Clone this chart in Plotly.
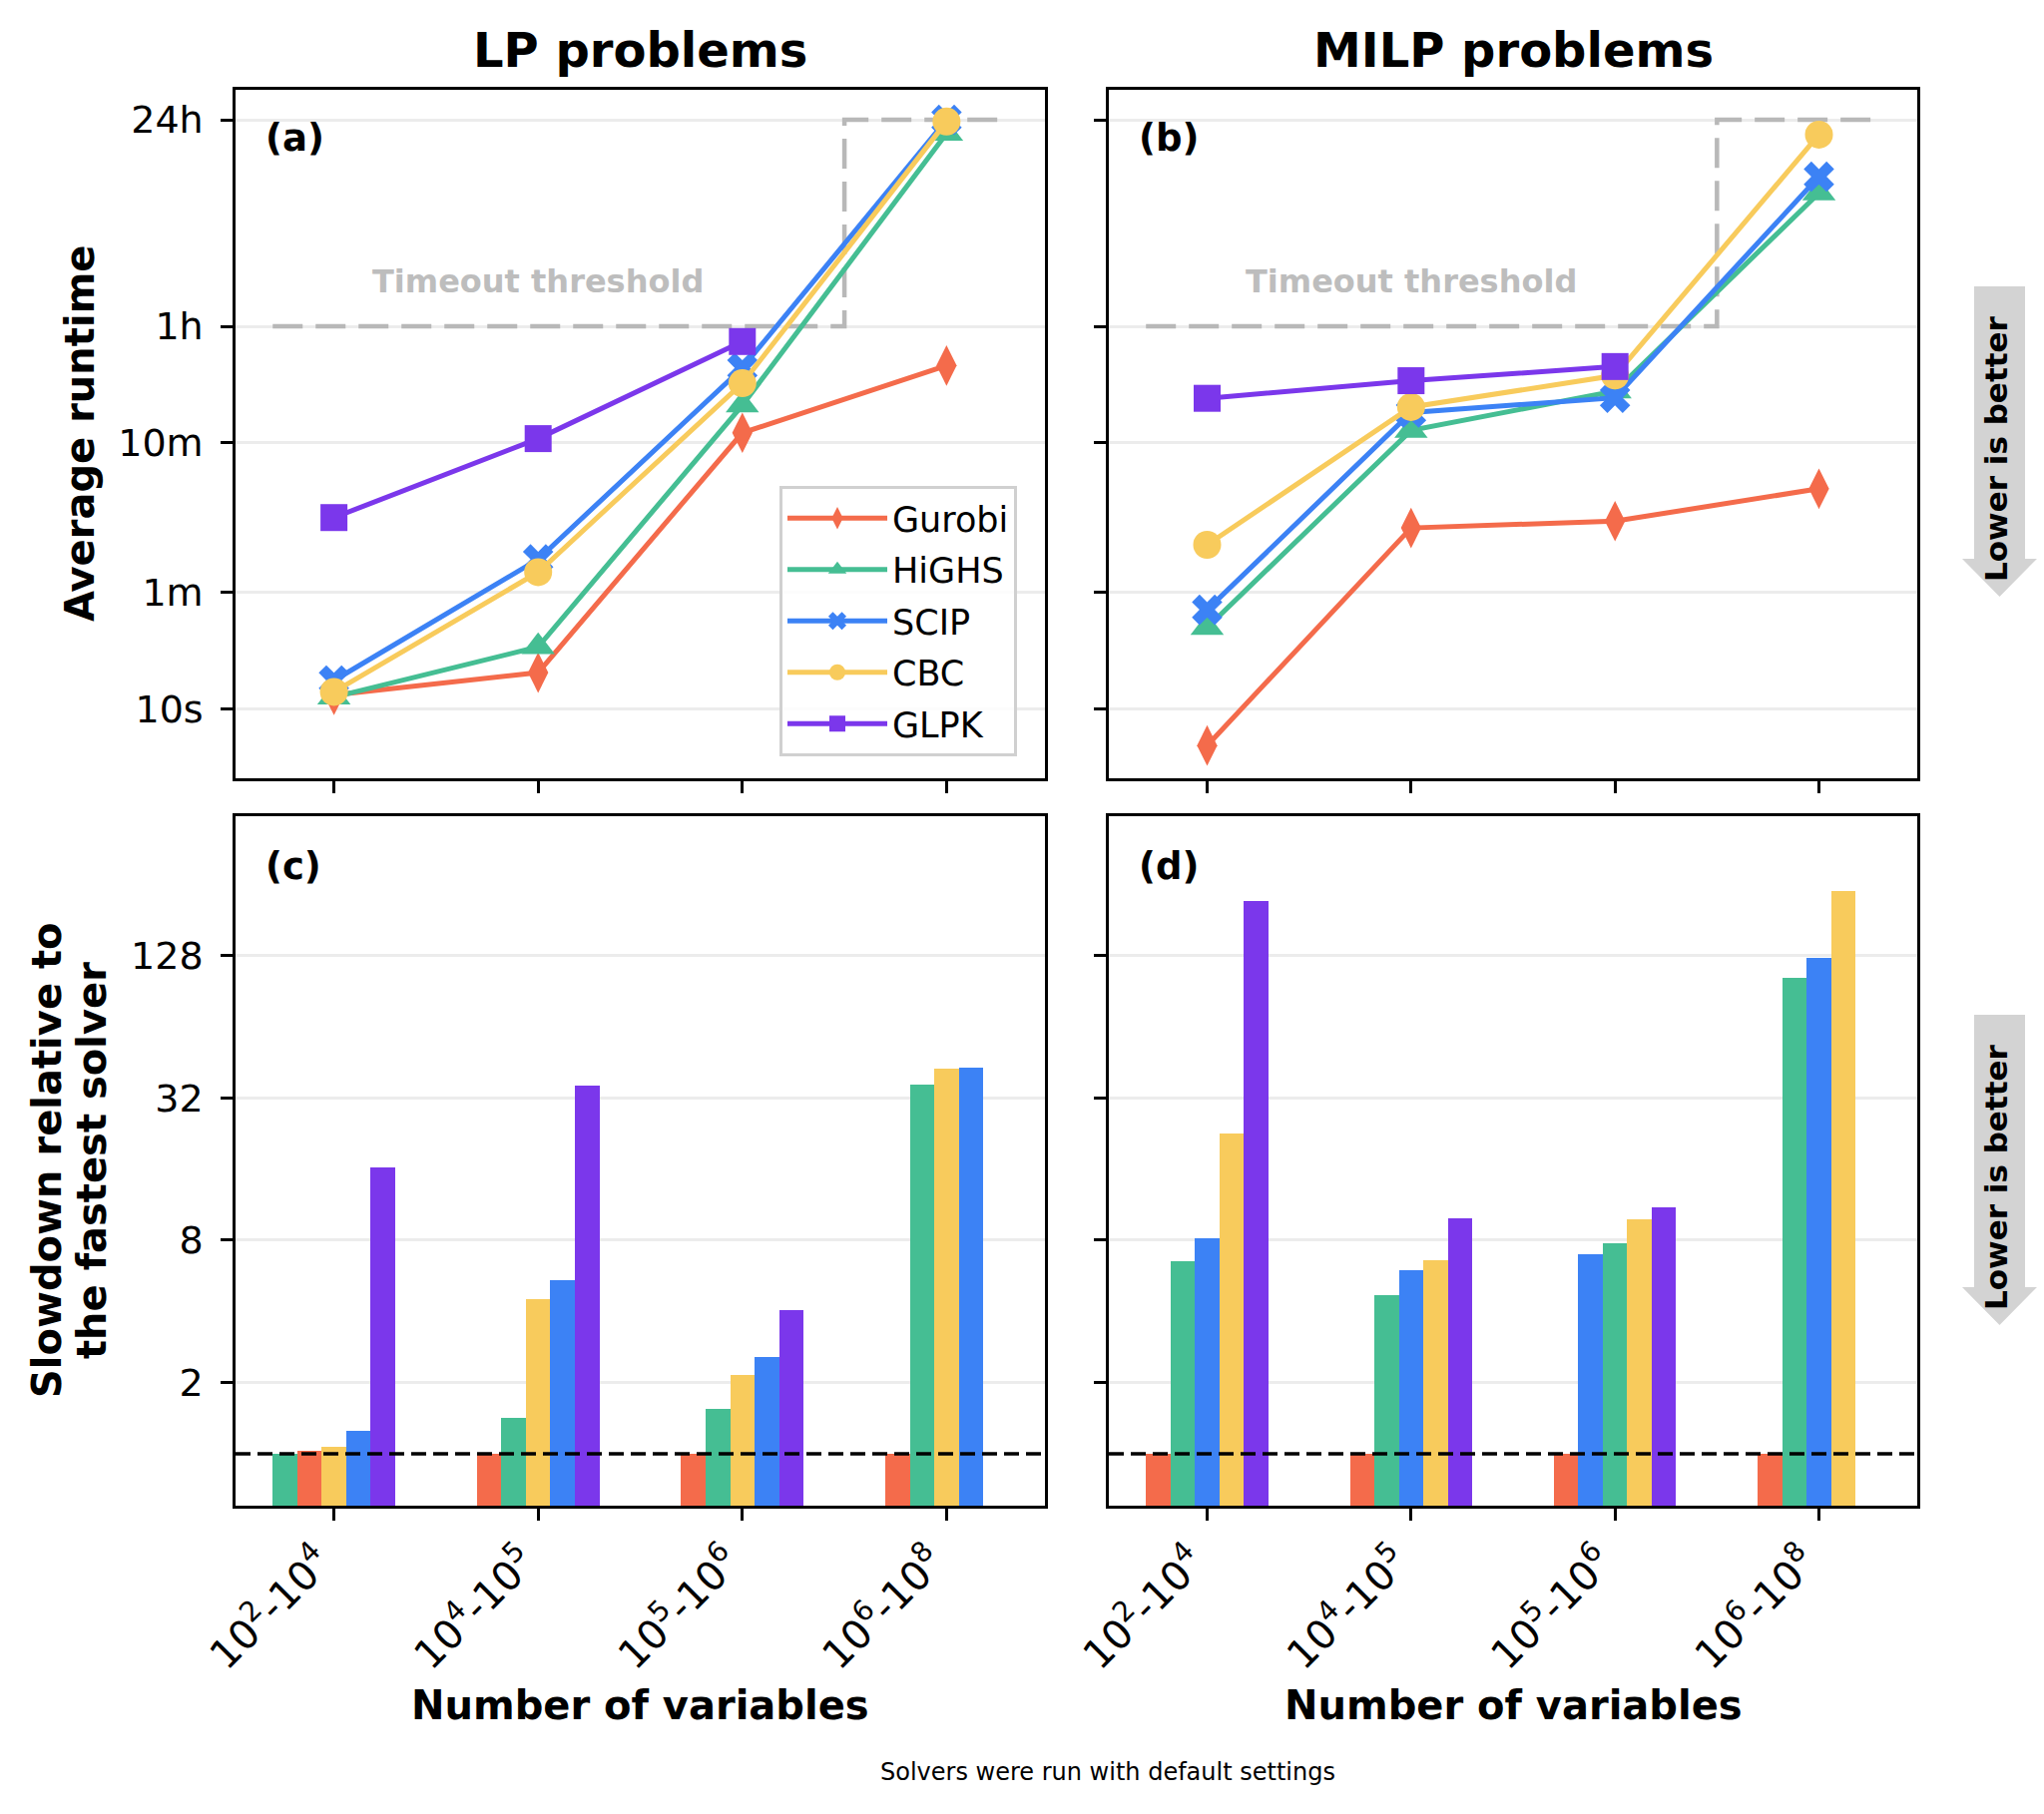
import math
import plotly.graph_objects as go

W, H = 2048, 1818
FONT = "DejaVu Sans"

# ---------------- data ----------------
categories = ["10<sup>2</sup>-10<sup>4</sup>", "10<sup>4</sup>-10<sup>5</sup>",
              "10<sup>5</sup>-10<sup>6</sup>", "10<sup>6</sup>-10<sup>8</sup>"]
solvers = ["Gurobi", "HiGHS", "SCIP", "CBC", "GLPK"]

# average runtime in seconds (LP problems)
lp_gurobi = [12.4, 17.5, 700, 1970]
lp_highs = [12.0, 26, 1070, 70000]
lp_scip = [15.5, 100, 1900, 86400]
lp_cbc = [13.0, 82, 1500, 84000]
lp_glpk = [190, 640, 2850, None]

# average runtime in seconds (MILP problems)
milp_gurobi = [5.7, 162, 180, 296]
milp_highs = [35, 726, 1330, 28000]
milp_scip = [46, 955, 1200, 36000]
milp_cbc = [125, 1040, 1690, 68700]
milp_glpk = [1190, 1560, 1940, None]

# slowdown relative to the fastest solver (LP problems)
lp_slow_gurobi = [1.03, 1.0, 1.0, 1.0]
lp_slow_highs = [1.0, 1.42, 1.55, 36.5]
lp_slow_scip = [1.25, 5.4, 2.57, 43.0]
lp_slow_cbc = [1.07, 4.5, 2.16, 42.5]
lp_slow_glpk = [16.2, 36.0, 4.05, None]

# slowdown relative to the fastest solver (MILP problems)
milp_slow_gurobi = [1.0, 1.0, 1.0, 1.0]
milp_slow_highs = [6.5, 4.7, 7.75, 103]
milp_slow_scip = [8.15, 6.0, 7.0, 125]
milp_slow_cbc = [22.6, 6.6, 9.8, 240]
milp_slow_glpk = [217, 9.9, 11.0, None]

time_tick_vals = [10, 60, 600, 3600, 86400]
time_tick_text = ["10s", "1m", "10m", "1h", "24h"]
slow_tick_vals = [2, 8, 32, 128]
slow_tick_text = ["2", "8", "32", "128"]

TIMEOUT_SOFT = 3600
TIMEOUT_HARD = 86400

# ---------------- styles ----------------
colors = {"Gurobi": "#F46B4B", "HiGHS": "#45BE93", "SCIP": "#3C82F5",
          "CBC": "#F8CB5C", "GLPK": "#7B37EB"}
symbols = {"Gurobi": "diamond-tall", "HiGHS": "triangle-up", "SCIP": "x",
           "CBC": "circle", "GLPK": "square"}
msizes = {"Gurobi": 29, "HiGHS": 29, "SCIP": 27, "CBC": 28, "GLPK": 27}

lp_runtime = dict(zip(solvers, [lp_gurobi, lp_highs, lp_scip, lp_cbc, lp_glpk]))
milp_runtime = dict(zip(solvers, [milp_gurobi, milp_highs, milp_scip, milp_cbc, milp_glpk]))
lp_slow = dict(zip(solvers, [lp_slow_gurobi, lp_slow_highs, lp_slow_scip, lp_slow_cbc, lp_slow_glpk]))
milp_slow = dict(zip(solvers, [milp_slow_gurobi, milp_slow_highs, milp_slow_scip, milp_slow_cbc, milp_slow_glpk]))

BAR_W = 0.12
xpos = list(range(len(categories)))

fig = go.Figure()

# ---------------- line panels ----------------
for data, xa, ya, show in [(lp_runtime, "x", "y", True), (milp_runtime, "x2", "y2", False)]:
    fig.add_trace(go.Scatter(
        x=[-0.3, 2.5, 2.5, 3.3],
        y=[TIMEOUT_SOFT, TIMEOUT_SOFT, TIMEOUT_HARD, TIMEOUT_HARD],
        mode="lines", line=dict(color="#b8b8b8", width=4.5, dash="30px,13px"),
        xaxis=xa, yaxis=ya, showlegend=False, hoverinfo="skip"))
    for s in solvers:
        fig.add_trace(go.Scatter(
            x=xpos, y=data[s], mode="lines+markers", name=s,
            line=dict(color=colors[s], width=5),
            marker=dict(symbol=symbols[s], size=msizes[s], color=colors[s], line=dict(width=0)),
            xaxis=xa, yaxis=ya, showlegend=show, legendgroup=s))

# ---------------- bar panels ----------------
for data, xa, ya in [(lp_slow, "x3", "y3"), (milp_slow, "x4", "y4")]:
    # bars within each group are ordered by increasing slowdown
    positions = {s: [None] * len(categories) for s in solvers}
    for g in range(len(categories)):
        present = [s for s in solvers if data[s][g] is not None]
        ordered = sorted(present, key=lambda s: data[s][g])
        for rank, s in enumerate(ordered):
            positions[s][g] = g + (rank - 2) * BAR_W
    for s in solvers:
        xs = [positions[s][g] for g in range(len(categories)) if data[s][g] is not None]
        ys = [data[s][g] for g in range(len(categories)) if data[s][g] is not None]
        fig.add_trace(go.Bar(
            x=xs, y=ys, width=BAR_W, marker=dict(color=colors[s], line=dict(width=0)),
            xaxis=xa, yaxis=ya, showlegend=False, name=s))

# ---------------- axes ----------------
XL = [236 / W, 1047 / W]
XR = [1111 / W, 1921 / W]
YT = [1 - 780 / H, 1 - 89.5 / H]
YB = [1 - 1509 / H, 1 - 818 / H]
XR_RANGE = [-0.482, 3.482]

common = dict(showline=True, linecolor="black", linewidth=2.5, mirror=True,
              ticks="outside", ticklen=12, tickwidth=2.5, tickcolor="black",
              zeroline=False, automargin=False,
              tickfont=dict(family=FONT, size=38, color="black"))


def xax(domain, anchor, labels):
    d = dict(common)
    d.update(domain=domain, anchor=anchor, range=XR_RANGE, tickmode="array",
             tickvals=xpos, ticktext=categories, showticklabels=labels,
             showgrid=False, tickangle=-45, ticklabelshift=-14, ticklabelstandoff=2,
             tickfont=dict(family=FONT, size=40, color="black"))
    return d


def yax(domain, anchor, vals, text, rng, labels):
    d = dict(common)
    d.update(domain=domain, anchor=anchor, type="log", range=rng, tickmode="array",
             tickvals=vals, ticktext=text, showticklabels=labels, ticklabelstandoff=10,
             showgrid=True, gridcolor="#ececec", gridwidth=2.5)
    return d


time_range = [0.537, 5.140]
slow_range = [-0.2195, 2.6966]

fig.update_layout(
    template="none",
    xaxis=xax(XL, "y", False),
    yaxis=yax(YT, "x", time_tick_vals, time_tick_text, time_range, True),
    xaxis2=xax(XR, "y2", False),
    yaxis2=yax(YT, "x2", time_tick_vals, time_tick_text, time_range, False),
    xaxis3=xax(XL, "y3", True),
    yaxis3=yax(YB, "x3", slow_tick_vals, slow_tick_text, slow_range, True),
    xaxis4=xax(XR, "y4", True),
    yaxis4=yax(YB, "x4", slow_tick_vals, slow_tick_text, slow_range, False),
)

# reference line at slowdown = 1
for xa, ya in [("x3", "y3"), ("x4", "y4")]:
    fig.add_shape(type="line", xref=f"{xa} domain", yref=ya, x0=0, x1=1, y0=1, y1=1,
                  line=dict(color="black", width=3.5, dash="15px,7px"), layer="above")


def px(x, y):
    return x / W, 1 - y / H


annotations = []


def text(t, x, y, size, bold=False, color="black", angle=0, xanchor="center",
         yanchor="middle", xref="paper", yref="paper"):
    annotations.append(dict(text=f"<b>{t}</b>" if bold else t, x=x, y=y, xref=xref, yref=yref,
                            showarrow=False, textangle=angle, xanchor=xanchor, yanchor=yanchor,
                            font=dict(family=FONT, size=size, color=color)))


# titles
text("LP problems", (XL[0] + XL[1]) / 2, px(0, 50)[1], 48, bold=True)
text("MILP problems", (XR[0] + XR[1]) / 2, px(0, 50)[1], 48, bold=True)
text("Number of variables", (XL[0] + XL[1]) / 2, px(0, 1709)[1], 40, bold=True)
text("Number of variables", (XR[0] + XR[1]) / 2, px(0, 1709)[1], 40, bold=True)
text("Average runtime", px(80, 0)[0], px(0, 435)[1], 40, bold=True, angle=-90)
text("Slowdown relative to", px(47, 0)[0], px(0, 1163)[1], 40, bold=True, angle=-90)
text("the fastest solver", px(92, 0)[0], px(0, 1163)[1], 40, bold=True, angle=-90)
text("Solvers were run with default settings", px(1110, 0)[0], px(0, 1776)[1], 24)

# panel labels
for lab, xa, ya, yy in [("(a)", "x", "y", 0.9295), ("(b)", "x2", "y2", 0.9295),
                        ("(c)", "x3", "y3", 0.9276), ("(d)", "x4", "y4", 0.9276)]:
    text(lab, 0.0345, yy, 37, bold=True, xanchor="left",
         xref=f"{xa} domain", yref=f"{ya} domain")

# timeout threshold labels
for xa, ya in [("x", "y"), ("x2", "y2")]:
    text("Timeout threshold", 1.0, math.log10(7200), 32, bold=True, color="#bdbdbd",
         xref=xa, yref=ya)

# "Lower is better" arrows
for dy in [0, 730]:
    pts = [(1978, 287), (2029, 287), (2029, 560), (2041, 560), (2003.5, 598),
           (1966, 560), (1978, 560)]
    path = "M " + " L ".join(f"{px(a, b + dy)[0]:.5f},{px(a, b + dy)[1]:.5f}" for a, b in pts) + " Z"
    fig.add_shape(type="path", xref="paper", yref="paper", path=path,
                  fillcolor="#d3d3d3", line=dict(width=0), layer="below")
    text("Lower is better", px(2000, 0)[0], px(0, 450 + dy)[1], 31, bold=True, angle=-90)

fig.update_layout(
    annotations=annotations,
    width=W, height=H, autosize=False,
    margin=dict(l=0, r=0, t=0, b=0, pad=0),
    paper_bgcolor="white", plot_bgcolor="white",
    barmode="overlay", bargap=0,
    font=dict(family=FONT, size=35, color="black"),
    legend=dict(x=781 / W, y=1 - 487 / H, xanchor="left", yanchor="top",
                bgcolor="rgba(255,255,255,0.85)", bordercolor="#d0d0d0", borderwidth=3,
                font=dict(family=FONT, size=35, color="black"),
                tracegroupgap=3, itemwidth=100),
)

fig.write_html("out.html")
